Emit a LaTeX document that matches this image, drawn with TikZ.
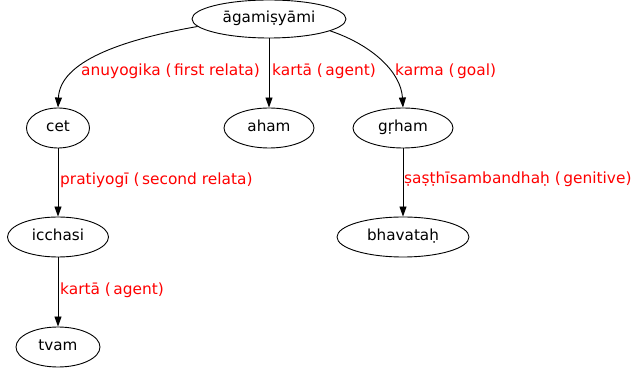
\documentclass[tikz,border=0pt]{standalone}
\usepackage{fontspec}
\setmainfont{DejaVu Sans}
\usetikzlibrary{arrows.meta,shapes.geometric}
\newcommand{\lp}{\ (\hspace{2.5pt}}
\tikzset{
  word/.style={ellipse, draw, line width=0.9pt, inner sep=0pt, minimum height=40pt,
    font=\fontsize{15.2}{18}\selectfont, text height=11pt, text depth=3pt},
  rel/.style={anchor=base west, inner sep=0pt, text=red, font=\fontsize{15.4}{18}\selectfont},
  dep/.style={line width=0.9pt, -{Triangle[length=10pt,width=7pt]}},
}
\begin{document}
\begin{tikzpicture}[x=1pt,y=-1pt]
\useasboundingbox (0,0) rectangle (635,371);
\node[word, minimum width=154pt, minimum height=38pt] (root) at (269,19) {āgamiṣyāmi};
\node[word, minimum width=63pt] (cet) at (58,128) {cet};
\node[word, minimum width=90pt] (aham) at (269,128) {aham};
\node[word, minimum width=100pt] (grham) at (403,128) {gṛham};
\node[word, minimum width=101pt] (icchasi) at (58,237) {icchasi};
\node[word, minimum width=132pt] (bhavatah) at (403,237) {bhavataḥ};
\node[word, minimum width=84pt] (tvam) at (58,347) {tvam};

\draw[dep] (root.186) .. controls (120,40) and (60,62) .. (cet.north);
\draw[dep] (root.south) -- (aham.north);
\draw[dep] (root.349) .. controls (372,45) and (401,72) .. (grham.north);
\draw[dep] (cet) -- (icchasi);
\draw[dep] (icchasi) -- (tvam);
\draw[dep] (grham) -- (bhavatah);

\node[rel] (l1) at (81,76) {anuyogika\lp first relata)};
\node[rel] (l2) at (272,76) {kartā\lp agent)};
\node[rel] (l3) at (395,76) {karma\lp goal)};
\node[rel] (l4) at (60,185) {pratiyogī\lp second relata)};
\node[rel] (l5) at (404,184) {ṣaṣṭhīsambandhaḥ\lp genitive)};
\node[rel] (l6) at (60,295) {kartā\lp agent)};
\end{tikzpicture}
\end{document}
